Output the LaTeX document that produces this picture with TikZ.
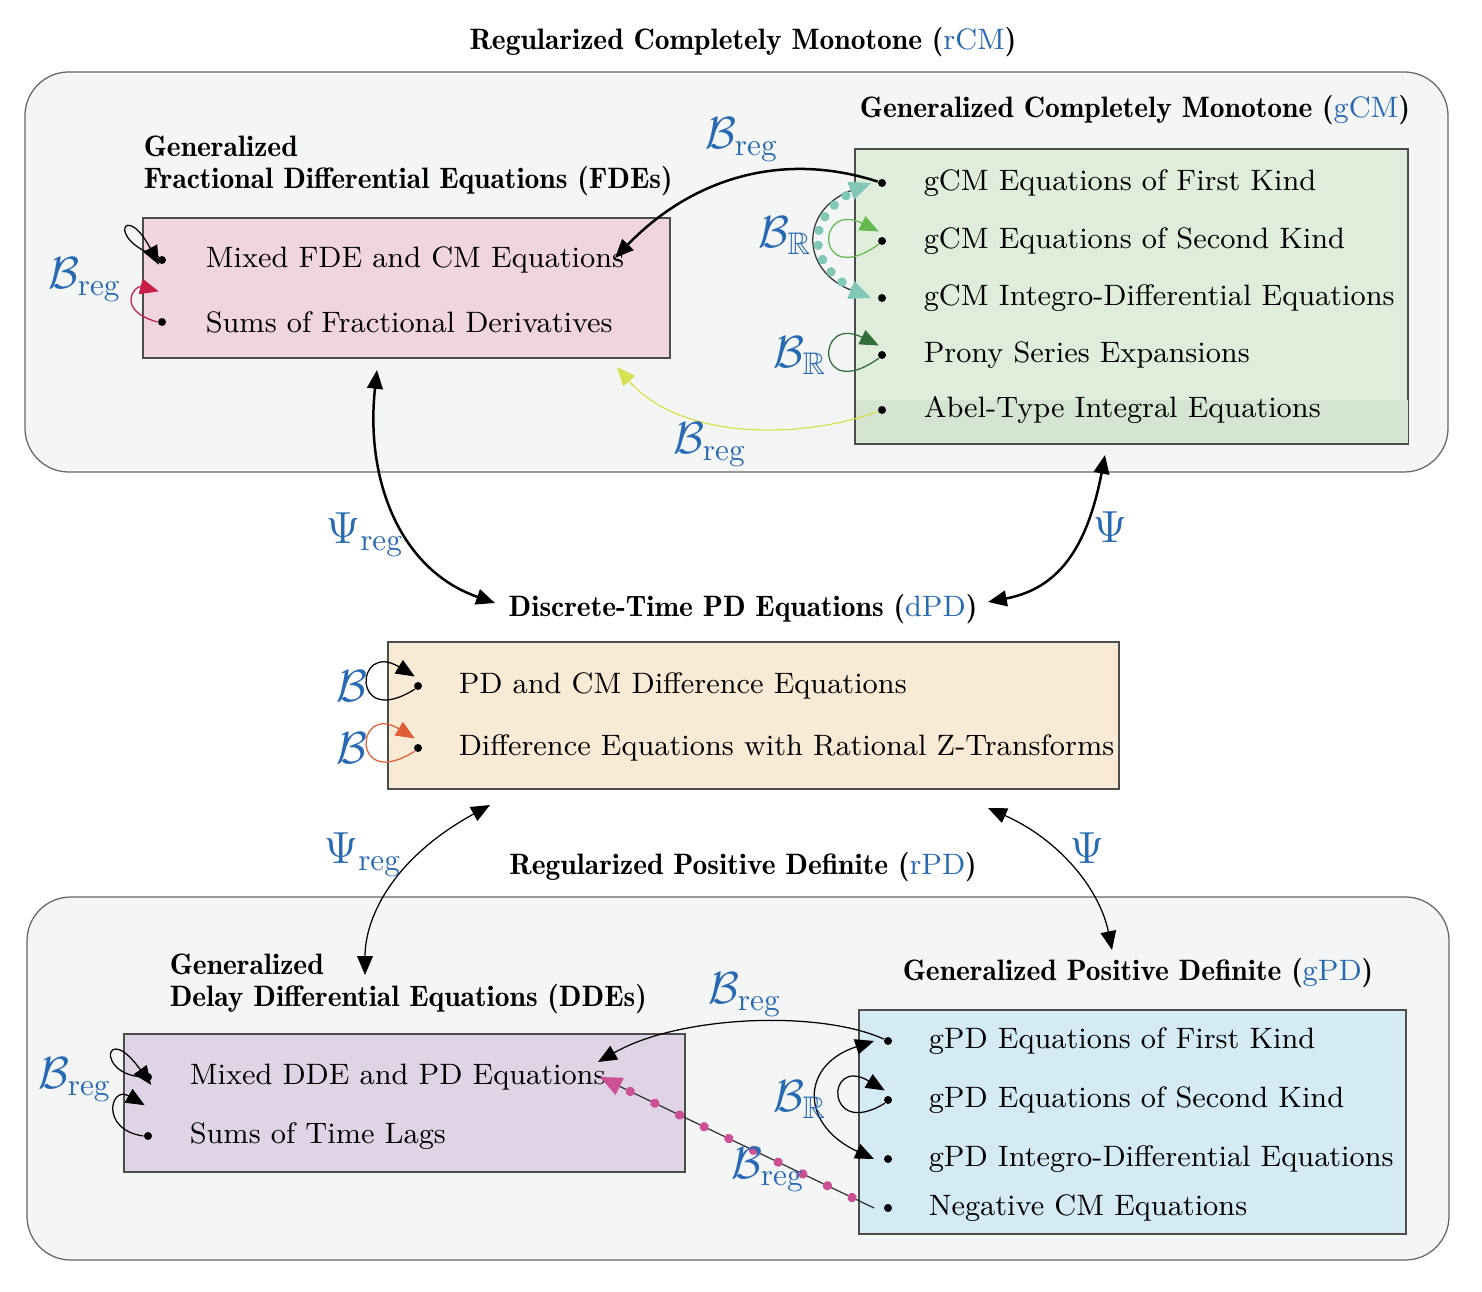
\documentclass[tikz,border=0pt]{standalone}
\usepackage{amsmath}
\usepackage{amssymb}
\usetikzlibrary{arrows.meta,decorations.markings,positioning}
\definecolor{lblue}{RGB}{40,105,180}
\definecolor{outerbg}{RGB}{244,246,245}
\definecolor{fdebg}{RGB}{240,213,225}
\definecolor{gcmbg}{RGB}{222,238,218}
\definecolor{gcmdark}{RGB}{212,230,210}
\definecolor{dpdbg}{RGB}{249,234,214}
\definecolor{ddebg}{RGB}{222,212,229}
\definecolor{gpdbg}{RGB}{212,235,246}
\definecolor{tealdot}{RGB}{130,200,185}
\definecolor{lgreen}{RGB}{100,185,80}
\definecolor{dgreen}{RGB}{50,110,55}
\definecolor{yellowgr}{RGB}{215,225,80}
\definecolor{crimson}{RGB}{200,30,70}
\definecolor{orangered}{RGB}{225,95,55}
\definecolor{magdot}{RGB}{205,80,150}
\newcommand{\Breg}{$\mathcal{B}_{\mathrm{reg}}$}
\newcommand{\BR}{$\mathcal{B}_{\mathbb{R}}$}
\newcommand{\Preg}{$\Psi_{\mathrm{reg}}$}

\begin{document}
\begin{tikzpicture}[x=0.32pt,y=-0.32pt,
  every node/.style={font=\fontsize{9.45}{11}\selectfont},
  outer/.style={draw=black!60,fill=outerbg,rounded corners=14pt},
  panel/.style={draw=black!70},
  title/.style={font=\fontsize{9.45}{11}\fontseries{b}\selectfont,inner sep=1pt},
  item/.style={anchor=west,inner sep=1pt},
  dot/.style={inner sep=0.9pt,circle,fill=black},
  lab/.style={text=lblue,font=\Large},
  tip/.style={-{Triangle[length=6pt,width=5pt]}},
  tips/.style={{Triangle[length=6pt,width=5pt]}-{Triangle[length=6pt,width=5pt]}},
  dotted path/.style={decoration={markings,mark=between positions 0.08 and 0.95 step 0.09 with {\fill[#1] (0,0) circle (1.5pt);}},postaction={decorate}}]
\useasboundingbox (0,0) rectangle (1482,1292);

% upper region
\node[title] (rcm) at (743,42) {Regularized Completely Monotone (\textcolor{lblue}{\mdseries rCM})};
\draw[outer] (25,72) rectangle (1448,472);

\node[title,anchor=west] (fdet1) at (140,146) {Generalized};
\node[title,anchor=west] (fdet2) at (140,181) {Fractional Differential Equations (FDEs)};
\draw[panel,fill=fdebg] (143,218) rectangle (670,358);
\node[dot] (f1) at (162,260) {};
\node[dot] (f2) at (162,322) {};
\node[item] (ft1) at (202,260) {Mixed FDE and CM Equations};
\node[item] (ft2) at (202,322) {Sums of Fractional Derivatives};

\node[title] (gcmt) at (1135,110) {Generalized Completely Monotone (\textcolor{lblue}{\mdseries gCM})};
\draw[panel,fill=gcmbg] (855,149) rectangle (1408,444);
\fill[gcmdark] (855.5,400) rectangle (1407.5,443.5);
\foreach \i/\y/\t in {1/183/gCM Equations of First Kind,2/241/gCM Equations of Second Kind,3/298/gCM Integro-Differential Equations,4/355/Prony Series Expansions,5/410/Abel-Type Integral Equations}{
  \node[dot] (c\i) at (882,\y) {};
  \node[item] (ct\i) at (920,\y) {\t};
}

% middle
\node[title] (dpdt) at (743,609) {Discrete-Time PD Equations (\textcolor{lblue}{\mdseries dPD})};
\draw[panel,fill=dpdbg] (388,642) rectangle (1119,789);
\node[dot] (d1) at (418,686) {};
\node[dot] (d2) at (418,748) {};
\node[item] (dt1) at (455,686) {PD and CM Difference Equations};
\node[item] (dt2) at (455,748) {Difference Equations with Rational Z-Transforms};

% lower region
\node[title] (rpd) at (743,867) {Regularized Positive Definite (\textcolor{lblue}{\mdseries rPD})};
\draw[outer] (27,897) rectangle (1449,1260);

\node[title,anchor=west] (ddet1) at (166,964) {Generalized};
\node[title,anchor=west] (ddet2) at (166,999) {Delay Differential Equations (DDEs)};
\draw[panel,fill=ddebg] (124,1034) rectangle (685,1172);
\node[dot] (e1) at (148,1077) {};
\node[dot] (e2) at (148,1136) {};
\node[item] (et1) at (186,1077) {Mixed DDE and PD Equations};
\node[item] (et2) at (186,1136) {Sums of Time Lags};

\node[title] (gpdt) at (1138,973) {Generalized Positive Definite (\textcolor{lblue}{\mdseries gPD})};
\draw[panel,fill=gpdbg] (859,1010) rectangle (1406,1234);
\foreach \i/\y/\t in {1/1041/gPD Equations of First Kind,2/1100/gPD Equations of Second Kind,3/1159/gPD Integro-Differential Equations,4/1208/Negative CM Equations}{
  \node[dot] (p\i) at (888,\y) {};
  \node[item] (pt\i) at (925,\y) {\t};
}

% connectors, upper
\coordinate (fin) at (615,258);
\draw[thick,tip] (c1) .. controls (780,150) and (690,180) .. (fin);
\node[lab] (l1) at (742,140) {\Breg};
\draw[draw=black!80,dotted path=tealdot,{Triangle[length=7pt,width=6pt,color=tealdot]}-{Triangle[length=7pt,width=6pt,color=tealdot]}]
  ([xshift=-2pt]c1.west) .. controls (800,210) and (800,270) .. ([xshift=-2pt]c3.west);
\node[lab] (l2) at (785,236) {\BR};
\draw[lgreen,tip] (c2.south west) .. controls (815,290) and (815,200) .. ([yshift=2pt]c2.north west);
\draw[dgreen,tip] (c4.south west) .. controls (815,404) and (815,314) .. ([yshift=2pt]c4.north west);
\node[lab] (l3) at (800,356) {\BR};
\coordinate (fin2) at (617,367);
\draw[yellowgr,tip] (c5) .. controls (800,440) and (680,440) .. (fin2);
\node[lab] (l4) at (710,445) {\Breg};
\draw[tip] (f1.north west) .. controls (105,240) and (125,200) .. ([xshift=-1pt,yshift=-3pt]f1.north);
\draw[crimson,tip] (f2.west) .. controls (115,310) and (135,285) .. ([yshift=-9pt]f1.south west);
\node[lab] (l5) at (85,280) {\Breg};

% connectors, middle
\coordinate (fu) at (377,370);
\coordinate (fd) at (495,603);
\draw[thick,tips] (fu) .. controls (365,480) and (400,570) .. (fd);
\node[lab] (l6) at (365,535) {\Preg};
\coordinate (gu) at (1105,455);
\coordinate (gd) at (988,602);
\draw[thick,tips] (gu) .. controls (1085,560) and (1050,590) .. (gd);
\node[lab] (l7) at (1110,527) {$\Psi$};
\draw[tip] (d1.south west) .. controls (350,730) and (355,640) .. ([yshift=2pt]d1.north west);
\node[lab] (l8) at (352,686) {$\mathcal{B}$};
\draw[orangered,tip] (d2.south west) .. controls (350,792) and (355,702) .. ([yshift=2pt]d2.north west);
\node[lab] (l9) at (352,748) {$\mathcal{B}$};

% connectors, lower
\coordinate (mu) at (490,805);
\coordinate (md) at (365,975);
\draw[tips] (mu) .. controls (390,860) and (365,920) .. (md);
\node[lab] (l10) at (363,855) {\Preg};
\coordinate (nu) at (988,808);
\coordinate (nd) at (1112,950);
\draw[tips] (nu) .. controls (1060,840) and (1100,890) .. (nd);
\node[lab] (l11) at (1087,848) {$\Psi$};
\draw[tip] (e1.west) .. controls (95,1075) and (105,1020) .. ([xshift=1pt,yshift=-4pt]e1.north);
\draw[tip] (e2.west) .. controls (100,1130) and (110,1085) .. ([yshift=-8pt]e1.south west);
\node[lab] (l12) at (75,1080) {\Breg};
\coordinate (ein) at (598,1062);
\draw[tip] (p1) .. controls (820,1010) and (680,1015) .. (ein);
\node[lab] (l13) at (745,995) {\Breg};
\draw[tips] ([xshift=-3pt]p1.west) .. controls (800,1065) and (800,1125) .. ([xshift=-3pt]p3.west);
\draw[tip] (p2.south west) .. controls (825,1140) and (825,1055) .. ([yshift=2pt]p2.north west);
\node[lab] (l14) at (800,1100) {\BR};
\coordinate (ein2) at (600,1077);
\draw[black!80,dotted path=magdot,-{Triangle[length=7pt,width=6pt,color=magdot]}] ([xshift=-3pt]p4.west) -- (ein2);
\node[lab] (l15) at (768,1170) {\Breg};
\end{tikzpicture}
\end{document}
